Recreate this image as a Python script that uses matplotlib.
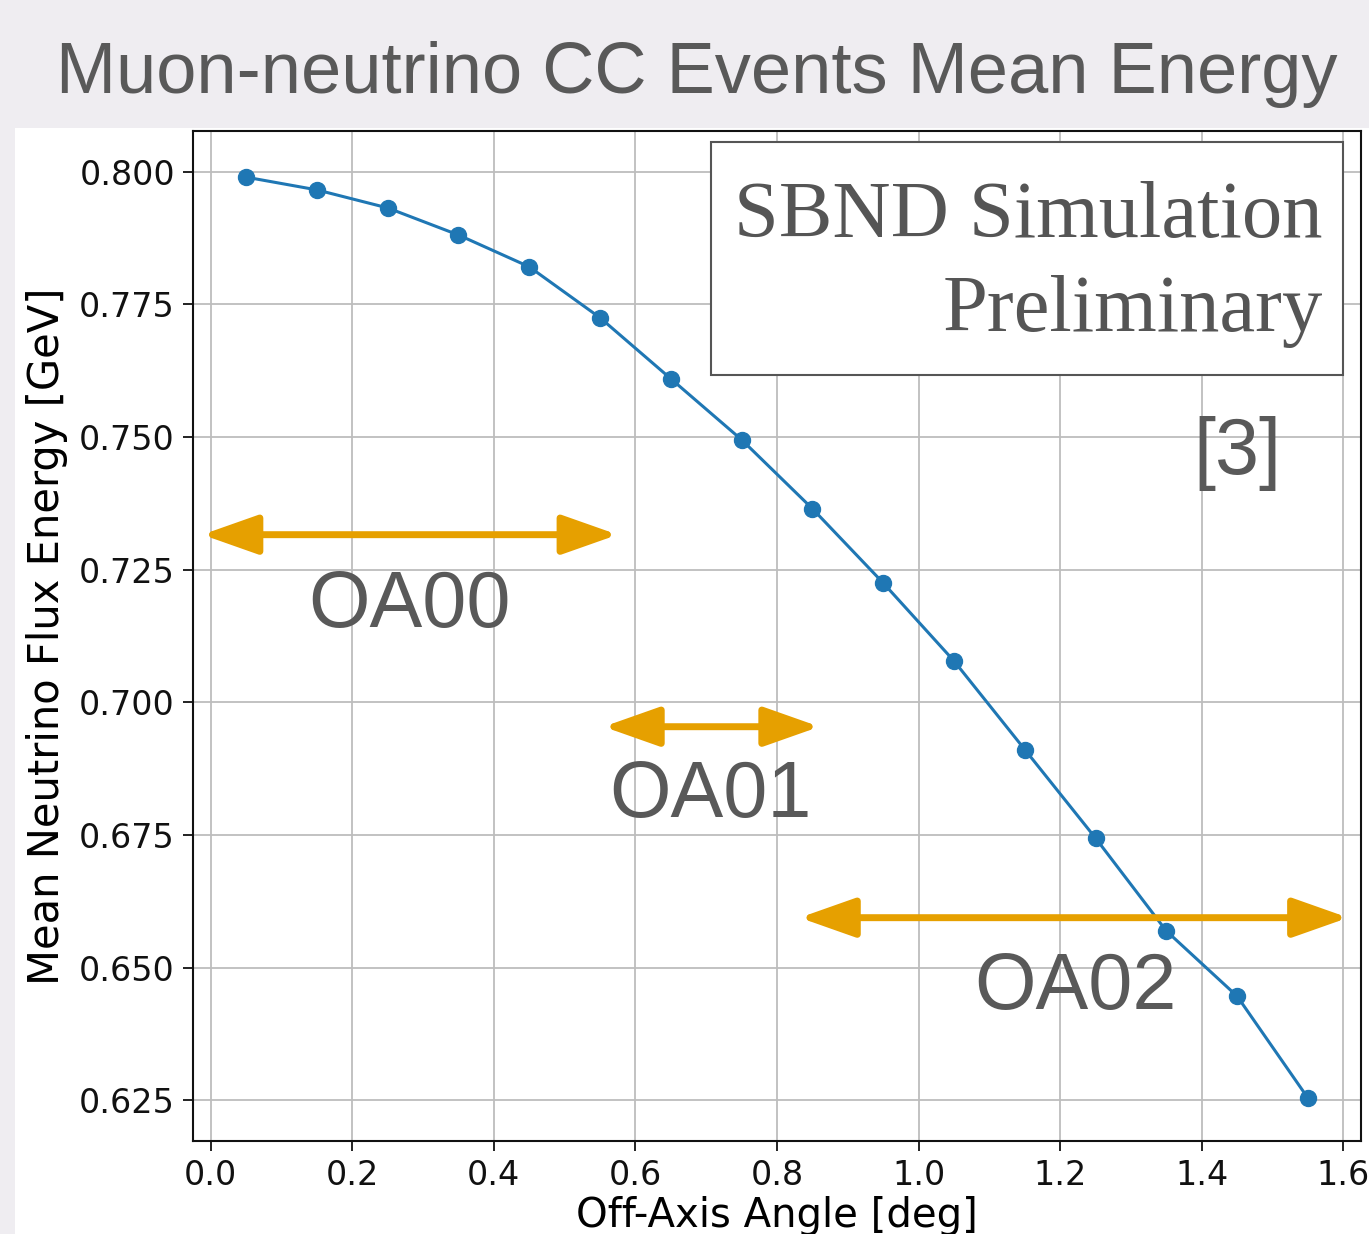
import matplotlib
matplotlib.use("Agg")
import matplotlib.pyplot as plt
from matplotlib.patches import Rectangle, FancyArrowPatch
import numpy as np

# ---- data ----
angle = [0.05, 0.15, 0.25, 0.35, 0.45, 0.55, 0.65, 0.75,
         0.85, 0.95, 1.05, 1.15, 1.25, 1.35, 1.45, 1.55]
mean_energy = [0.799, 0.7966, 0.7932, 0.7881, 0.7821, 0.7725, 0.7610, 0.7495,
               0.7365, 0.7225, 0.7078, 0.6911, 0.6744, 0.6569, 0.6446, 0.6254]
xticks = [0.0, 0.2, 0.4, 0.6, 0.8, 1.0, 1.2, 1.4, 1.6]
yticks = [0.625, 0.650, 0.675, 0.700, 0.725, 0.750, 0.775, 0.800]
regions = ["OA00", "OA01", "OA02"]
region_start = [-0.012, 0.555, 0.832]
region_end = [0.575, 0.86, 1.607]
region_y = [0.7316, 0.6954, 0.6594]

W, H = 1369, 1234
fig = plt.figure(figsize=(W / 100, H / 100), dpi=100)
fig.patch.set_facecolor("#efedf1")

def fx(px):
    return px / W

def fy(py):
    return 1 - py / H

# white panel
fig.patches.append(Rectangle((fx(15), 0), 1 - fx(15), fy(128), transform=fig.transFigure,
                             facecolor="white", edgecolor="none", zorder=-5))

fig.text(fx(697), fy(75), "Muon-neutrino CC Events Mean Energy", ha="center", va="center",
         fontsize=52, color="#595959", family="Liberation Sans")

ax = fig.add_axes([fx(193), fy(1141), fx(1361) - fx(193), fy(131) - fy(1141)])
ax.set_zorder(1)
ax.set_facecolor("white")
ax.plot(angle, mean_energy, "-o", color="#1f77b4", lw=2.2, markersize=11.5, zorder=3)
ax.set_xticks(xticks)
ax.set_yticks(yticks)
ax.set_xticklabels([f"{v:.1f}" for v in xticks])
ax.set_yticklabels([f"{v:.3f}" for v in yticks])
ax.set_xlim(-0.025, 1.625)
ax.set_ylim(0.6173, 0.8077)
ax.grid(True, color="#bdbdbd", lw=1.3)
ax.set_axisbelow(True)
for s in ax.spines.values():
    s.set_linewidth(1.5)
    s.set_color("#111111")
ax.tick_params(labelsize=24, length=7, width=1.3, pad=6, colors="#111111")
ax.set_xlabel("Off-Axis Angle [deg]", fontsize=29, labelpad=3)
ax.set_ylabel("Mean Neutrino Flux Energy [GeV]", fontsize=30, labelpad=8)

# arrows & labels
label_pos = [(410, 603), (710, 793), (1075, 985)]
for name, x0, x1, yv, (lx, ly) in zip(regions, region_start, region_end, region_y, label_pos):
    arr = FancyArrowPatch((x0, yv), (x1, yv), arrowstyle="<|-|>,head_length=3.4,head_width=1.2",
                          mutation_scale=10, color="#e6a000", lw=5, shrinkA=0, shrinkB=0,
                          clip_on=False, zorder=4)
    ax.add_patch(arr)
    ax.text(fx(lx), fy(ly) - 0.003, name, transform=fig.transFigure, ha="center", va="center",
            fontsize=57, color="#595959", family="Liberation Sans", zorder=5)

# SBND box
ax.add_patch(Rectangle((fx(711), fy(375)), fx(1343) - fx(711), fy(142) - fy(375),
                       transform=fig.transFigure, facecolor="white", clip_on=False,
                       edgecolor="#555555", lw=1.5, zorder=5))
ax.text(fx(1323), fy(217), "SBND Simulation", transform=fig.transFigure, ha="right",
        va="center", fontsize=58, color="#555555", family="Liberation Serif", zorder=6)
ax.text(fx(1323), fy(311), "Preliminary", transform=fig.transFigure, ha="right",
        va="center", fontsize=58, color="#555555", family="Liberation Serif", zorder=6)
ax.text(fx(1237), fy(453), "[3]", transform=fig.transFigure, ha="center", va="center",
        fontsize=57, color="#595959", family="Liberation Sans", zorder=6)

fig.savefig("out.png", dpi=100, facecolor=fig.get_facecolor())
